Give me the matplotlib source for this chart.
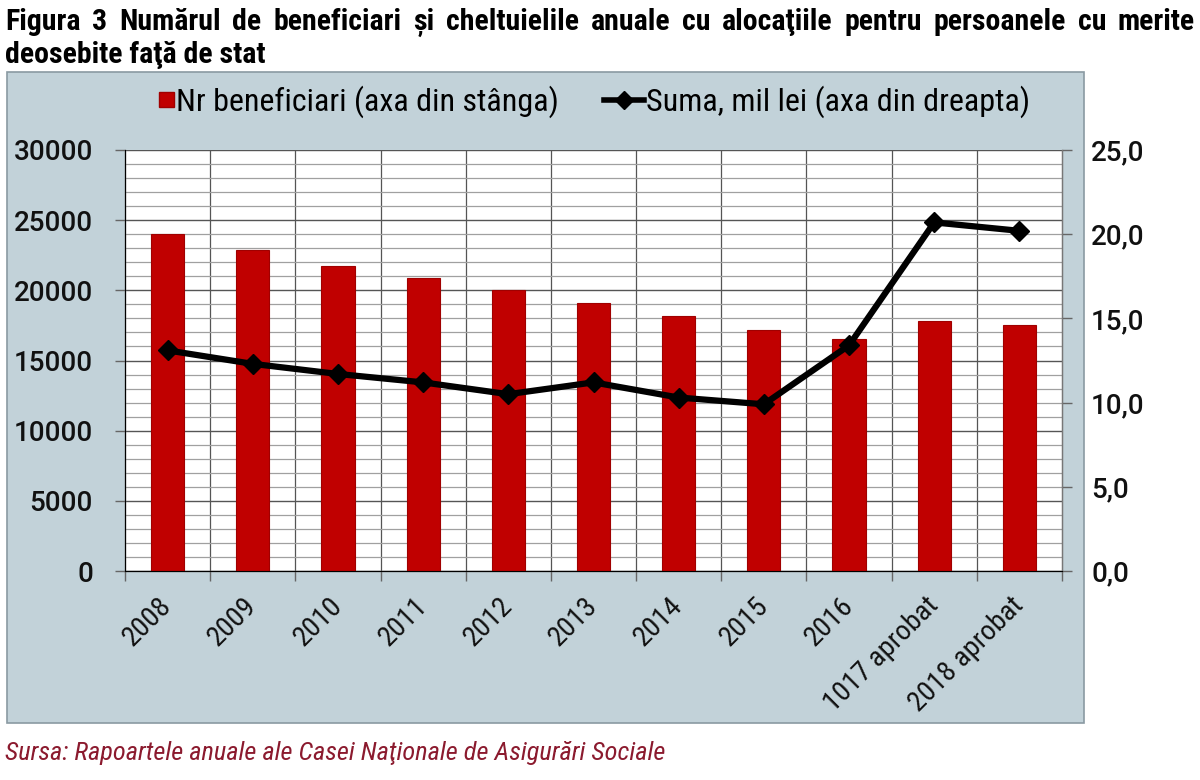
import matplotlib
matplotlib.use("Agg")
import matplotlib.pyplot as plt
from matplotlib.patches import Rectangle
from matplotlib.lines import Line2D
from matplotlib.legend_handler import HandlerPatch
from matplotlib.ticker import MultipleLocator, FixedLocator, NullFormatter

categories = ["2008", "2009", "2010", "2011", "2012", "2013", "2014", "2015", "2016",
              "1017 aprobat", "2018 aprobat"]
beneficiari = [24000, 22900, 21700, 20900, 20000, 19100, 18200, 17200, 16500, 17800, 17500]
suma = [13.1, 12.3, 11.7, 11.2, 10.5, 11.2, 10.3, 9.9, 13.4, 20.7, 20.2]
left_ticks = [0, 5000, 10000, 15000, 20000, 25000, 30000]
right_ticks = [0, 5, 10, 15, 20, 25]

title1 = "Figura 3 Numărul de beneficiari și cheltuielile anuale cu alocaţiile pentru persoanele cu merite"
title2 = "deosebite faţă de stat"
source = "Sursa: Rapoartele anuale ale Casei Naţionale de Asigurări Sociale"
leg1 = "Nr beneficiari (axa din stânga)"
leg2 = "Suma, mil lei (axa din dreapta)"

COND = ["Roboto Condensed", "Liberation Sans Narrow", "Roboto", "DejaVu Sans"]
REG = ["Roboto", "DejaVu Sans"]

BG = "#c2d2d9"
RED = "#c00000"

fig = plt.figure(figsize=(12, 7.8), dpi=100)
W, H = 1200, 780

def fx(x):
    return x / W

def fy(y):
    return 1 - y / H

# outer chart box
fig.patches.append(Rectangle((fx(7), fy(723)), fx(1084 - 7), (723 - 72) / H,
                             transform=fig.transFigure, facecolor=BG,
                             edgecolor="#8a9aa2", linewidth=1.2, zorder=-5))

ax = fig.add_axes([fx(125), fy(571), fx(1062 - 125), (571 - 150) / H])
ax.set_facecolor("white")
x = list(range(len(categories)))
ax.bar(x, beneficiari, width=0.39, color=RED, edgecolor="#a00000", linewidth=0.8, zorder=3)
ax.set_xlim(-0.5, len(categories) - 0.5)
ax.set_ylim(0, 30000)
ax.yaxis.set_major_locator(FixedLocator(left_ticks))
ax.yaxis.set_minor_locator(MultipleLocator(1000))
ax.set_yticklabels([str(t) for t in left_ticks], fontfamily=REG, fontweight="medium",
                   fontsize=20, color="#111111")
ax.grid(which="minor", axis="y", color="#a0a0a0", linewidth=0.9, zorder=0)
ax.grid(which="major", axis="y", color="#555555", linewidth=1.0, zorder=0)
ax.tick_params(axis="y", which="major", length=7, width=1, color="#666666", pad=16)
ax.tick_params(axis="y", which="minor", length=0)

bounds = [i - 0.5 for i in range(len(categories) + 1)]
ax.xaxis.set_major_locator(FixedLocator(bounds))
ax.xaxis.set_major_formatter(NullFormatter())
ax.xaxis.set_minor_locator(FixedLocator(x))
ax.set_xticklabels(categories, minor=True, rotation=45, ha="right", va="center",
                   rotation_mode="anchor", fontfamily=COND, fontsize=20.5, color="#111111")
ax.tick_params(axis="x", which="major", length=7, width=1, color="#666666")
ax.tick_params(axis="x", which="minor", length=0, pad=22)
for b in bounds[1:-1]:
    ax.axvline(b, color="#555555", linewidth=0.9, zorder=1)
ax.spines["top"].set_visible(False)
for s in ["left", "bottom", "right"]:
    ax.spines[s].set_color("#777777")
    ax.spines[s].set_linewidth(1.0)

ax2 = ax.twinx()
ax2.plot(x, suma, color="black", linewidth=4.5, marker="D", markersize=10, zorder=5)
ax2.set_ylim(0, 25)
ax2.yaxis.set_major_locator(FixedLocator(right_ticks))
ax2.set_yticklabels([f"{t:.1f}".replace(".", ",") for t in right_ticks],
                    fontfamily=REG, fontweight="medium", fontsize=20, color="#111111")
ax2.tick_params(axis="y", length=7, width=1, color="#666666", pad=14)
ax2.spines["top"].set_visible(False)
ax2.spines["right"].set_color("#777777")


# legend
def square_patch(legend, orig_handle, xdescent, ydescent, width, height, fontsize):
    s = 15 * 72 / 100
    return Rectangle((width - s - xdescent, height / 2 - s / 2 - ydescent), s, s)


handles = [Rectangle((0, 0), 1, 1, facecolor=RED, edgecolor="#a00000"),
           Line2D([], [], color="black", linewidth=4, marker="D", markersize=9)]
fig.legend(handles, [leg1, leg2], loc="center", bbox_to_anchor=(fx(582), fy(102)),
           ncol=2, frameon=False, prop={"family": COND, "size": 23},
           handlelength=1.25, handletextpad=0.08, columnspacing=1.4, handleheight=0.7,
           handler_map={Rectangle: HandlerPatch(patch_func=square_patch)})

# title with justified first line
renderer = fig.canvas.get_renderer()
tfont = dict(fontfamily=COND, fontweight="bold", fontsize=21.5, color="black")
words = title1.split(" ")
objs = [fig.text(0, fy(30), w, va="baseline", ha="left", **tfont) for w in words]
widths = [o.get_window_extent(renderer).width for o in objs]
x0, x1 = 5, 1195
gap = (x1 - x0 - sum(widths)) / (len(words) - 1)
cur = x0
for o, w in zip(objs, widths):
    o.set_x(fx(cur))
    cur += w + gap
fig.text(fx(5), fy(63), title2, va="baseline", ha="left", **tfont)

fig.text(fx(5), fy(760), source, fontfamily=COND, fontstyle="italic", fontsize=19,
         color="#8b1a2e", va="baseline", ha="left")

fig.savefig("out.png", dpi=100)
